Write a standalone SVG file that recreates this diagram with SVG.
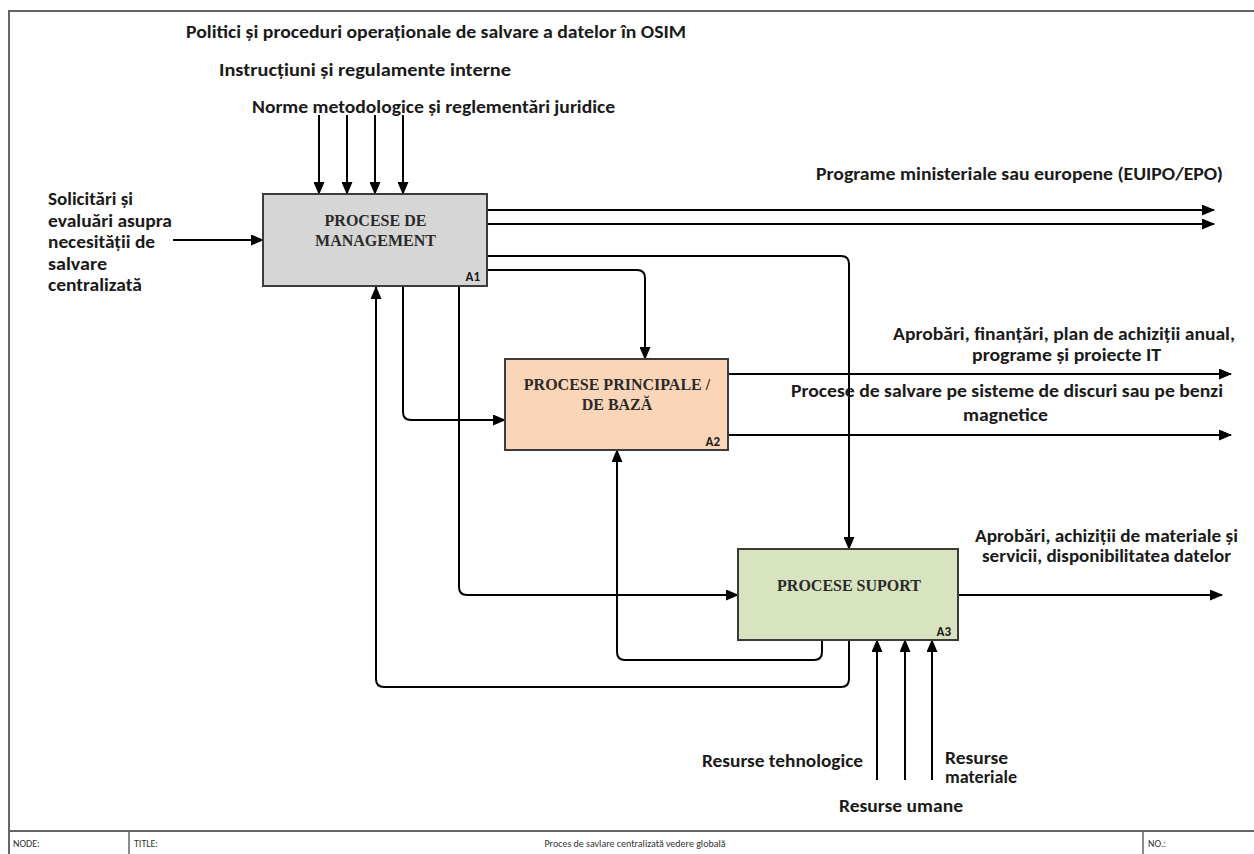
<svg xmlns="http://www.w3.org/2000/svg" width="1254" height="854" viewBox="0 0 1254 854">
<defs>
<marker id="arr" markerUnits="userSpaceOnUse" markerWidth="13" markerHeight="11" refX="12" refY="5.5" orient="auto">
<path d="M0,0 L13,5.5 L0,11 Z" fill="#000"/>
</marker>
<style>
.lbl{font-family:Carlito,Lato,"Liberation Sans",sans-serif;font-weight:bold;font-size:17px;fill:#1a1a1a}
.box{stroke:#3c3c3c;stroke-width:2}
.bt{font-family:"Liberation Serif","Times New Roman",serif;font-weight:bold;font-size:16px;fill:#2a2a2a;text-anchor:middle}
.id{font-family:Carlito,Lato,"Liberation Sans",sans-serif;font-weight:bold;font-size:13px;fill:#1a1a1a;text-anchor:end}
.ft{font-family:Carlito,Lato,"Liberation Sans",sans-serif;font-size:10px;fill:#333}
.c{fill:none;stroke:#000;stroke-width:2}
</style>
</defs>
<rect width="1254" height="854" fill="#fff"/>
<g id="frame" fill="none" stroke="#666" stroke-width="2">
<path d="M9,854 V11 H1254"/>
<path d="M9,831 H1254"/>
<path d="M129,831 V854 M1143,831 V854" stroke-width="1.5"/>
</g>
<g id="footer">
<text class="ft" x="13" y="847">NODE:</text>
<text class="ft" x="134" y="847">TITLE:</text>
<text class="ft" x="635" y="847" text-anchor="middle">Proces de savlare centralizată vedere globală</text>
<text class="ft" x="1148" y="847">NO.:</text>
</g>
<g id="connectors">
<path class="c" d="M319,115 V194" marker-end="url(#arr)"/>
<path class="c" d="M347,115 V194" marker-end="url(#arr)"/>
<path class="c" d="M375,115 V194" marker-end="url(#arr)"/>
<path class="c" d="M403,115 V194" marker-end="url(#arr)"/>
<path class="c" d="M173,240 H263" marker-end="url(#arr)"/>
<path class="c" d="M487,210 H1214" marker-end="url(#arr)"/>
<path class="c" d="M487,224 H1214" marker-end="url(#arr)"/>
<path class="c" d="M487,256 H841 Q849,256 849,264 V549" marker-end="url(#arr)"/>
<path class="c" d="M487,270 H637 Q645,270 645,278 V359" marker-end="url(#arr)"/>
<path class="c" d="M403,287 V412 Q403,420 411,420 H505" marker-end="url(#arr)"/>
<path class="c" d="M459,287 V587 Q459,595 467,595 H738" marker-end="url(#arr)"/>
<path class="c" d="M728,374 H1231" marker-end="url(#arr)"/>
<path class="c" d="M728,435 H1231" marker-end="url(#arr)"/>
<path class="c" d="M958,595 H1222" marker-end="url(#arr)"/>
<path class="c" d="M849,640 V679 Q849,687 841,687 H384 Q376,687 376,679 V287" marker-end="url(#arr)"/>
<path class="c" d="M822,640 V652 Q822,660 814,660 H625 Q617,660 617,652 V450" marker-end="url(#arr)"/>
<path class="c" d="M877,780 V640" marker-end="url(#arr)"/>
<path class="c" d="M905,780 V640" marker-end="url(#arr)"/>
<path class="c" d="M932,780 V640" marker-end="url(#arr)"/>
</g>
<g id="A1">
<rect class="box" x="263" y="194" width="224" height="92" fill="#d6d6d6"/>
<text class="bt" x="375.5" y="226">PROCESE DE</text>
<text class="bt" x="375.5" y="246">MANAGEMENT</text>
<text class="id" x="480" y="281">A1</text>
</g>
<g id="A2">
<rect class="box" x="505" y="359" width="223" height="91" fill="#fbd5b7"/>
<text class="bt" x="617" y="390">PROCESE PRINCIPALE /</text>
<text class="bt" x="617" y="410">DE BAZĂ</text>
<text class="id" x="720" y="446">A2</text>
</g>
<g id="A3">
<rect class="box" x="738" y="549" width="220" height="91" fill="#d8e4bf"/>
<text class="bt" x="849" y="591">PROCESE SUPORT</text>
<text class="id" x="951" y="636">A3</text>
</g>
<g id="labels">
<text class="lbl" x="186" y="38" textLength="500" lengthAdjust="spacingAndGlyphs">Politici și proceduri operaționale de salvare a datelor în OSIM</text>
<text class="lbl" x="219" y="76" textLength="292" lengthAdjust="spacingAndGlyphs">Instrucțiuni și regulamente interne</text>
<text class="lbl" x="252" y="113" textLength="363" lengthAdjust="spacingAndGlyphs">Norme metodologice și reglementări juridice</text>
<text class="lbl" x="48" y="205" textLength="85" lengthAdjust="spacingAndGlyphs">Solicitări și</text>
<text class="lbl" x="48" y="227" textLength="124" lengthAdjust="spacingAndGlyphs">evaluări asupra</text>
<text class="lbl" x="48" y="248" textLength="107" lengthAdjust="spacingAndGlyphs">necesității de</text>
<text class="lbl" x="48" y="270" textLength="59" lengthAdjust="spacingAndGlyphs">salvare</text>
<text class="lbl" x="48" y="291" textLength="94" lengthAdjust="spacingAndGlyphs">centralizată</text>
<text class="lbl" x="816" y="180" textLength="407" lengthAdjust="spacingAndGlyphs">Programe ministeriale sau europene (EUIPO/EPO)</text>
<text class="lbl" x="893" y="340" textLength="342" lengthAdjust="spacingAndGlyphs">Aprobări, finanțări, plan de achiziții anual,</text>
<text class="lbl" x="972" y="361" textLength="189" lengthAdjust="spacingAndGlyphs">programe și proiecte IT</text>
<text class="lbl" x="791" y="397" textLength="432" lengthAdjust="spacingAndGlyphs">Procese de salvare pe sisteme de discuri sau pe benzi</text>
<text class="lbl" x="963" y="421" textLength="85" lengthAdjust="spacingAndGlyphs">magnetice</text>
<text class="lbl" x="975" y="542" textLength="263" lengthAdjust="spacingAndGlyphs">Aprobări, achiziții de materiale și</text>
<text class="lbl" x="982" y="562" textLength="249" lengthAdjust="spacingAndGlyphs">servicii, disponibilitatea datelor</text>
<text class="lbl" x="702" y="767" textLength="161" lengthAdjust="spacingAndGlyphs">Resurse tehnologice</text>
<text class="lbl" x="839" y="812" textLength="124" lengthAdjust="spacingAndGlyphs">Resurse umane</text>
<text class="lbl" x="945" y="764" textLength="63" lengthAdjust="spacingAndGlyphs">Resurse</text>
<text class="lbl" x="945" y="783" textLength="72" lengthAdjust="spacingAndGlyphs">materiale</text>
</g>
</svg>
